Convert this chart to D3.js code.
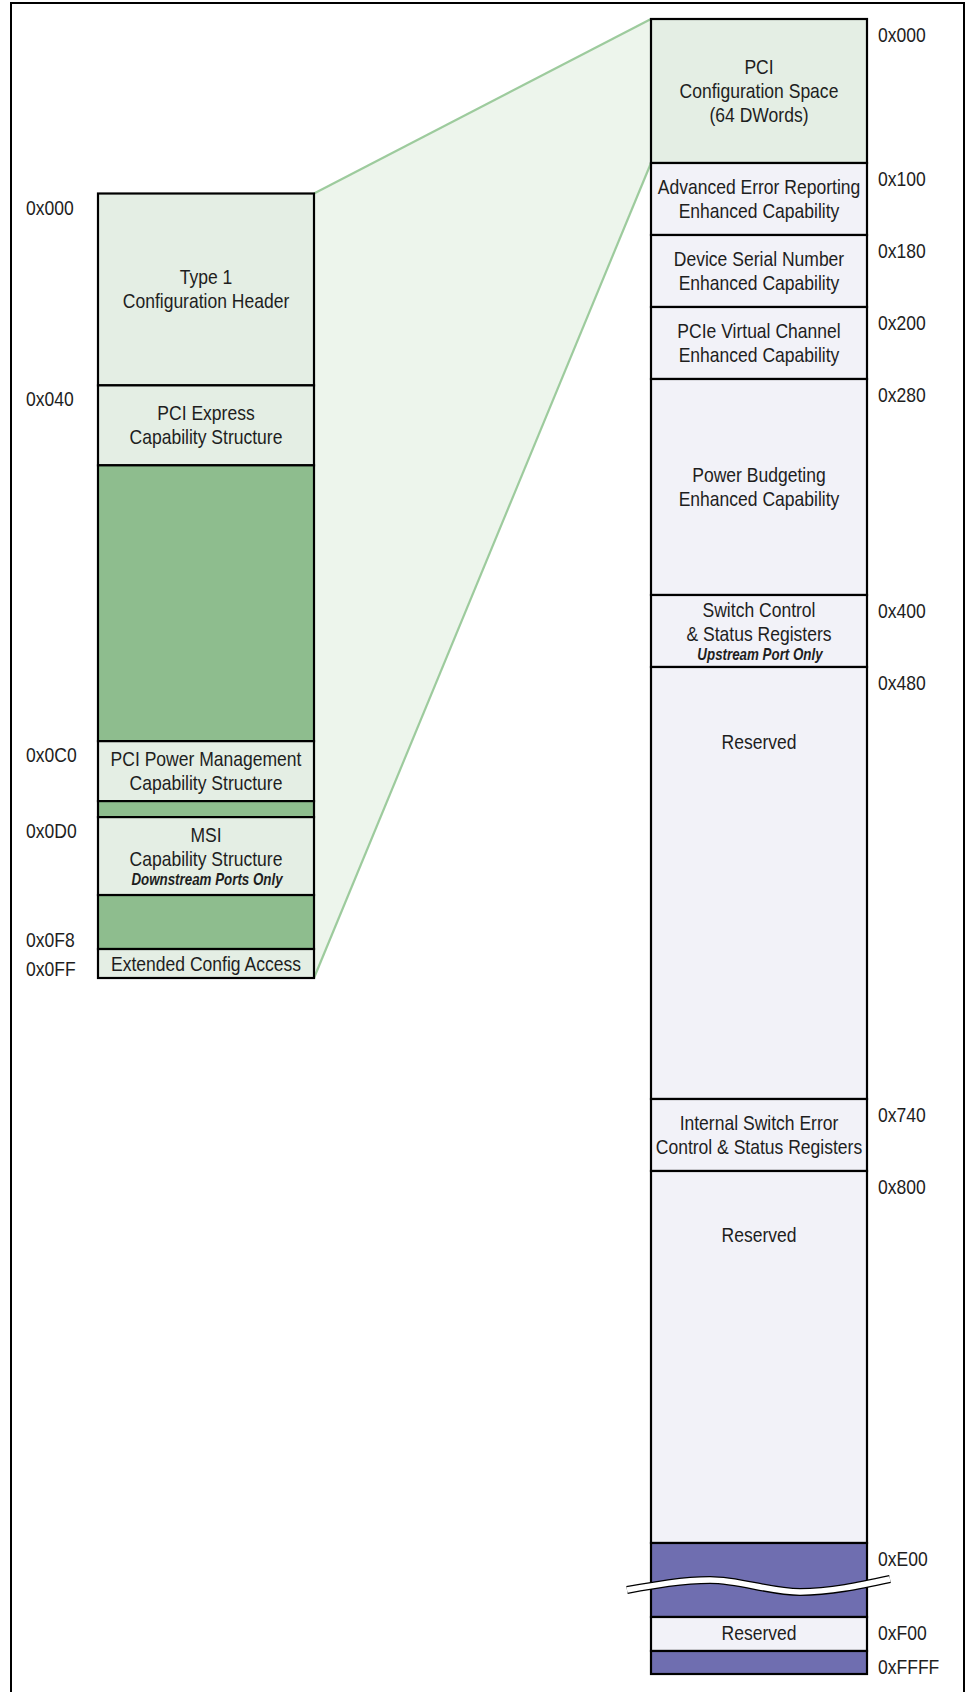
<!DOCTYPE html>
<html>
<head>
<meta charset="utf-8">
<script src="https://cdn.jsdelivr.net/npm/d3@7/dist/d3.min.js"></script>
<style>
  html, body { margin: 0; padding: 0; background: #fff; }
  svg { display: block; }
  text { font-family: "Liberation Sans Narrow", "Arial Narrow", "Liberation Sans", sans-serif; fill: #1e1e1e; }
</style>
</head>
<body>
<svg id="chart" width="967" height="1692"></svg>
<script>
// ---------- data ----------
const leftNames = ["Type 1\nConfiguration Header", "PCI Express\nCapability Structure", "", "PCI Power Management\nCapability Structure", "", "MSI\nCapability Structure", "", "Extended Config Access"];
const leftNotes = ["", "", "", "", "", "Downstream Ports Only", "", ""];
const leftSpans = [48, 20, 69, 15, 4, 19.5, 13.5, 7.25];
const leftKinds = ["cfg", "cfg", "unused", "cfg", "unused", "cfg", "unused", "cfg"];

const leftAddr = ["0x000", "0x040", "0x0C0", "0x0D0", "0x0F8", "0x0FF"];
const leftAddrEdge = [0, 1, 3, 5, 7, 8];
const leftAddrAlign = ["top", "top", "top", "top", "bottom", "bottom"];

const rightNames = ["PCI\nConfiguration Space\n(64 DWords)", "Advanced Error Reporting\nEnhanced Capability", "Device Serial Number\nEnhanced Capability", "PCIe Virtual Channel\nEnhanced Capability", "Power Budgeting\nEnhanced Capability", "Switch Control\n& Status Registers", "Reserved", "Internal Switch Error\nControl & Status Registers", "Reserved", "", "Reserved", ""];
const rightNotes = ["", "", "", "", "", "Upstream Port Only", "", "", "", "", "", ""];
const rightSpans = [36, 18, 18, 18, 54, 18, 108, 18, 93, 18.5, 8.5, 5.75];
const rightKinds = ["pci", "ext", "ext", "ext", "ext", "ext", "ext", "ext", "ext", "gap", "ext", "gap"];
const rightTextAt = [0.5, 0.5, 0.5, 0.5, 0.5, 0.5, 0.173, 0.5, 0.173, 0.5, 0.46, 0.5];

const rightAddr = ["0x000", "0x100", "0x180", "0x200", "0x280", "0x400", "0x480", "0x740", "0x800", "0xE00", "0xF00", "0xFFFF"];
const rightAddrEdge = [0, 1, 2, 3, 4, 5, 6, 7, 8, 9, 10, 11];

const breakBlock = 9;               // the purple block that carries the break mark
const waveX = [-24, 59, 149, 239];  // break mark control offsets from column left
const waveY = [10, 0, 12, -1];      // break mark control offsets from block centre

// ---------- styles ----------
const fills = { cfg: "#e4eee4", unused: "#8ebd8e", pci: "#e4eee4", ext: "#f2f2f8", gap: "#6f6eb0" };
const colW = 216;
const FS = 21, NOTE_FS = 16, SX = 0.835;   // condensed look
const x = d3.scaleOrdinal().domain(["left", "right"]).range([98, 651]);

function cumulative(spans) {
  const c = [0];
  spans.forEach(s => c.push(c[c.length - 1] + s));
  return c;
}
const leftCum = cumulative(leftSpans);
const rightCum = cumulative(rightSpans);
const yL = d3.scaleLinear().domain([0, leftCum[leftCum.length - 1]]).range([193.5, 978]);
const yR = d3.scaleLinear().domain([0, rightCum[rightCum.length - 1]]).range([19, 1674]);

const svg = d3.select("#chart");

function label(parent, tx, ty, str, opts) {
  const t = parent.append("text")
    .attr("transform", `translate(${tx},${ty}) scale(${SX},1)`)
    .attr("font-size", opts.size || FS)
    .attr("text-anchor", opts.anchor || "start")
    .text(str);
  if (opts.bold) t.attr("font-weight", "bold");
  if (opts.italic) t.attr("font-style", "italic");
  return t;
}

// outer frame
svg.append("rect").attr("x", 11).attr("y", 3).attr("width", 953).attr("height", 1700)
  .attr("fill", "none").attr("stroke", "#000").attr("stroke-width", 2);

// zoom wedge
const wedge = [
  [x("left") + colW, yL(0)],
  [x("right"), yR(rightCum[0])],
  [x("right"), yR(rightCum[1])],
  [x("left") + colW, yL(leftCum[leftCum.length - 1])]
];
svg.append("path").attr("d", d3.line()(wedge) + "Z").attr("fill", "#edf5ec").attr("stroke", "none");
svg.append("path").attr("d", d3.line()([wedge[0], wedge[1]])).attr("stroke", "#9dcb9d").attr("stroke-width", 2.2).attr("fill", "none");
svg.append("path").attr("d", d3.line()([wedge[2], wedge[3]])).attr("stroke", "#9dcb9d").attr("stroke-width", 2.2).attr("fill", "none");

function drawColumn(side, names, notes, kinds, cum, y, textAt) {
  const g = svg.append("g");
  const data = names.map((n, i) => ({ name: n, note: notes[i], kind: kinds[i], y0: y(cum[i]), y1: y(cum[i + 1]), at: textAt ? textAt[i] : 0.5 }));
  g.selectAll("rect").data(data).join("rect")
    .attr("x", x(side)).attr("y", d => d.y0)
    .attr("width", colW).attr("height", d => d.y1 - d.y0)
    .attr("fill", d => fills[d.kind]).attr("stroke", "#000").attr("stroke-width", 2.2);

  data.forEach(d => {
    if (!d.name) return;
    const lines = d.name.split("\n");
    const n = lines.length, m = d.note ? 1 : 0;
    const H = 24 * n + 18 * m;
    const c = d.y0 + d.at * (d.y1 - d.y0);
    const top = c - H / 2;
    const cx = x(side) + colW / 2;
    lines.forEach((ln, i) => label(g, cx, top + 24 * (i + 1) - 5, ln, { anchor: "middle" }));
    if (d.note) label(g, cx + 1, top + 24 * n + 14, d.note, { anchor: "middle", size: NOTE_FS, bold: true, italic: true });
  });
  return g;
}

drawColumn("left", leftNames, leftNotes, leftKinds, leftCum, yL, null);
drawColumn("right", rightNames, rightNotes, rightKinds, rightCum, yR, rightTextAt);

// break mark
const bx = x("right");
const bc = (yR(rightCum[breakBlock]) + yR(rightCum[breakBlock + 1])) / 2;
const wavePts = waveX.map((dx, i) => [bx + dx, bc + waveY[i]]);
const waveLine = d3.line().curve(d3.curveMonotoneX);
svg.append("path").attr("d", waveLine(wavePts)).attr("fill", "none").attr("stroke", "#000").attr("stroke-width", 8);
svg.append("path").attr("d", waveLine(wavePts)).attr("fill", "none").attr("stroke", "#fff").attr("stroke-width", 5.4);

// address labels
leftAddr.forEach((t, i) => {
  const yy = yL(leftCum[leftAddrEdge[i]]);
  label(svg, 26, leftAddrAlign[i] === "top" ? yy + 21 : yy - 2, t, {});
});
rightAddr.forEach((t, i) => {
  const yy = yR(rightCum[rightAddrEdge[i]]);
  label(svg, 878, yy + 23, t, {});
});
</script>
</body>
</html>
